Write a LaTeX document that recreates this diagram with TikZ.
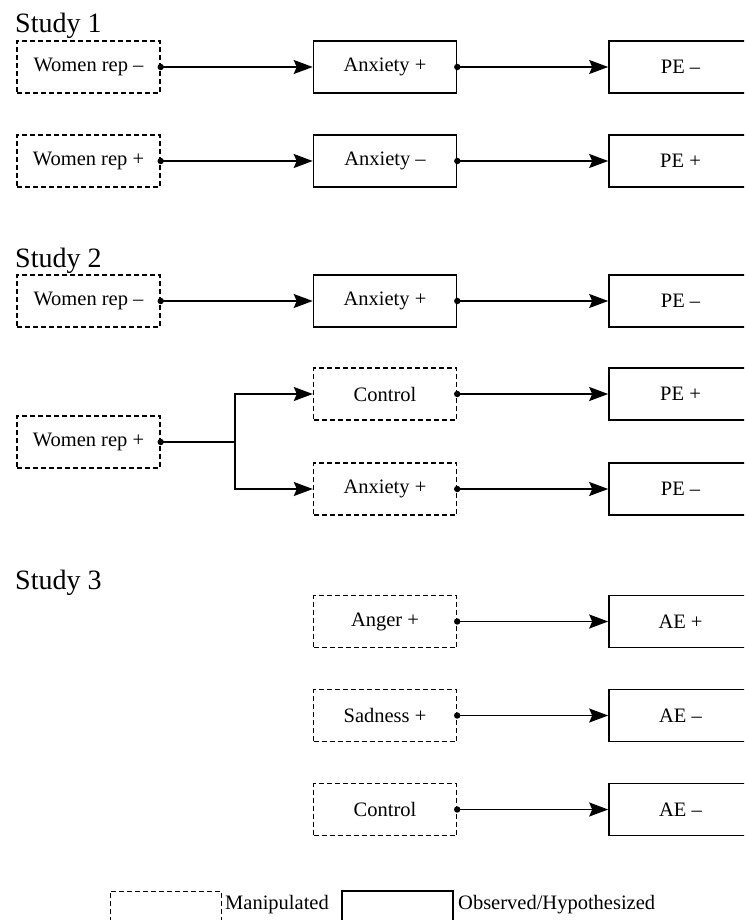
\documentclass[tikz,border=0pt]{standalone}
\usepackage{fontspec}
\setmainfont{Liberation Serif}
\usetikzlibrary{arrows.meta}
\tikzset{
  box/.style={draw, line width=1.6pt, minimum width=143pt, minimum height=52pt, inner sep=0pt, font=\fontsize{20.5}{24}\selectfont},
  manip/.style={box, dashed, dash pattern=on 5pt off 3pt, line width=1.4pt},
  obs/.style={box},
  conn/.style={line width=1.5pt, -{Stealth[length=19pt,width=14pt,inset=3pt]}},
  plainconn/.style={line width=1.5pt},
  study/.style={anchor=base west, inner sep=0pt, font=\fontsize{28}{32}\selectfont},
  legtext/.style={anchor=base west, inner sep=0pt, font=\fontsize{20.5}{24}\selectfont},
}
\newcommand{\startdot}[1]{\fill (#1) circle (3.2pt);}
\begin{document}
\begin{tikzpicture}[x=1pt,y=-1pt]
\useasboundingbox (0,0) rectangle (744,920);
\clip (0,0) rectangle (744,920);
% Study 1
\node[study] (s1) at (15,33) {Study 1};
\node[manip] (a1) at (88.5,67) {Women rep --};
\node[obs] (b1) at (385,67) {Anxiety +};
\node[obs] (c1) at (680.5,67) {PE --};
\node[manip] (a2) at (88.5,161) {Women rep +};
\node[obs] (b2) at (385,161) {Anxiety --};
\node[obs] (c2) at (680.5,161) {PE +};
\draw[conn] (a1.east) -- (b1.west); \startdot{a1.east}
\draw[conn] (b1.east) -- (c1.west); \startdot{b1.east}
\draw[conn] (a2.east) -- (b2.west); \startdot{a2.east}
\draw[conn] (b2.east) -- (c2.west); \startdot{b2.east}
% Study 2
\node[study] (s2) at (15,267) {Study 2};
\node[manip] (a3) at (88.5,301) {Women rep --};
\node[obs] (b3) at (385,301) {Anxiety +};
\node[obs] (c3) at (680.5,301) {PE --};
\draw[conn] (a3.east) -- (b3.west); \startdot{a3.east}
\draw[conn] (b3.east) -- (c3.west); \startdot{b3.east}
\node[manip] (a4) at (88.5,442) {Women rep +};
\node[manip] (b4) at (385,394) {Control};
\node[obs] (c4) at (680.5,394) {PE +};
\node[manip] (b5) at (385,489) {Anxiety +};
\node[obs] (c5) at (680.5,489) {PE --};
\coordinate (br) at (235,442);
\draw[plainconn] (a4.east) -- (br); \startdot{a4.east}
\draw[conn] (br) |- (b4.west);
\draw[conn] (br) |- (b5.west);
\draw[conn] (b4.east) -- (c4.west); \startdot{b4.east}
\draw[conn] (b5.east) -- (c5.west); \startdot{b5.east}
% Study 3
\node[study] (s3) at (15,589) {Study 3};
\node[manip] (b6) at (385,621.5) {Anger +};
\node[obs] (c6) at (680.5,621.5) {AE +};
\node[manip] (b7) at (385,715.5) {Sadness +};
\node[obs] (c7) at (680.5,715.5) {AE --};
\node[manip] (b8) at (385,809.5) {Control};
\node[obs] (c8) at (680.5,809.5) {AE --};
\draw[conn] (b6.east) -- (c6.west); \startdot{b6.east}
\draw[conn] (b7.east) -- (c7.west); \startdot{b7.east}
\draw[conn] (b8.east) -- (c8.west); \startdot{b8.east}
% Legend
\node[manip, minimum width=111pt, minimum height=40pt, line width=1pt] (lm) at (165.5,911) {};
\node[legtext] (lmt) at (225,909) {Manipulated};
\node[obs, minimum width=111pt, minimum height=40pt, line width=1.3pt] (lo) at (397.5,911) {};
\node[legtext] (lot) at (458,909) {Observed/Hypothesized};
\end{tikzpicture}
\end{document}
